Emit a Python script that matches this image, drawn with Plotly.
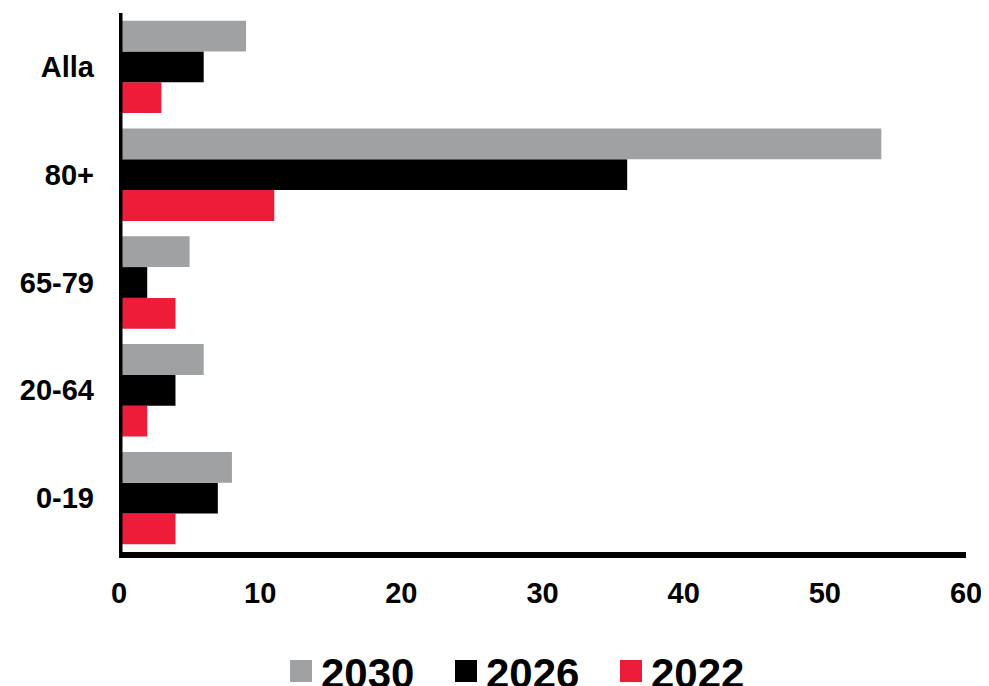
import plotly.graph_objects as go

categories = ["0-19", "20-64", "65-79", "80+", "Alla"]
series_names = ["2022", "2026", "2030"]
values_2022 = [4, 2, 4, 11, 3]
values_2026 = [7, 4, 2, 36, 6]
values_2030 = [8, 6, 5, 54, 9]
series_values = [values_2022, values_2026, values_2030]
colors = ["#ED1C38", "#000000", "#A0A1A3"]
x_ticks = [0, 10, 20, 30, 40, 50, 60]

# the page body adds an 8px offset; figure is sized to fit the 989x686 window
OFF = 8
W, H = 989 - OFF, 686 - OFF
L, R, T, B = 119 - OFF, 23, 13 - OFF, 134
FONT = "Liberation Sans"

fig = go.Figure()
for name, vals, col in zip(series_names, series_values, colors):
    fig.add_trace(go.Bar(
        y=categories, x=vals, name=name, orientation="h",
        marker=dict(color=col, line=dict(width=0)),
        showlegend=False,
    ))

pw, ph = W - L - R, H - T - B
def px_x(p):
    return (p - OFF - L) / pw
def px_y(p):
    return (H - B - (p - OFF)) / ph

# vertical axis line centred on x = 0, drawn above the bars
fig.add_shape(type="line", xref="x", yref="paper", x0=0, x1=0, y0=px_y(553), y1=1,
              line=dict(color="#000000", width=7), layer="above")

legend_start = 290
legend_step = 165
sq = 22
for i, (name, col) in enumerate(zip(series_names[::-1], colors[::-1])):
    x0 = legend_start + i * legend_step
    fig.add_shape(type="rect", xref="paper", yref="paper",
                  x0=px_x(x0), x1=px_x(x0 + sq), y0=px_y(682), y1=px_y(660),
                  fillcolor=col, line=dict(width=0))
    fig.add_annotation(xref="paper", yref="paper", x=px_x(x0 + sq + 7), y=px_y(673),
                       xanchor="left", yanchor="middle", showarrow=False,
                       text="<b>%s</b>" % name,
                       font=dict(family=FONT, size=42, color="#000000"))

fig.update_layout(
    width=W, height=H,
    margin=dict(l=L, r=R, t=T, b=B),
    paper_bgcolor="white", plot_bgcolor="white",
    barmode="group", bargap=0.143, bargroupgap=0,
    font=dict(family=FONT, color="#000000"),
    xaxis=dict(
        range=[0, 60], tickvals=x_ticks, ticktext=["<b>%d</b>" % v for v in x_ticks],
        showgrid=False, zeroline=False,
        showline=True, linecolor="#000000", linewidth=6,
        ticks="", tickfont=dict(family=FONT, size=29, color="#000000"),
        ticklabelstandoff=10, layer="above traces", fixedrange=True,
    ),
    yaxis=dict(
        categoryorder="array", categoryarray=categories,
        tickvals=categories, ticktext=["<b>%s</b>" % c for c in categories],
        showgrid=False, zeroline=False, showline=False,
        ticks="", tickfont=dict(family=FONT, size=29, color="#000000"),
        ticklabelstandoff=24, fixedrange=True,
    ),
)

fig.write_html("out.html")
